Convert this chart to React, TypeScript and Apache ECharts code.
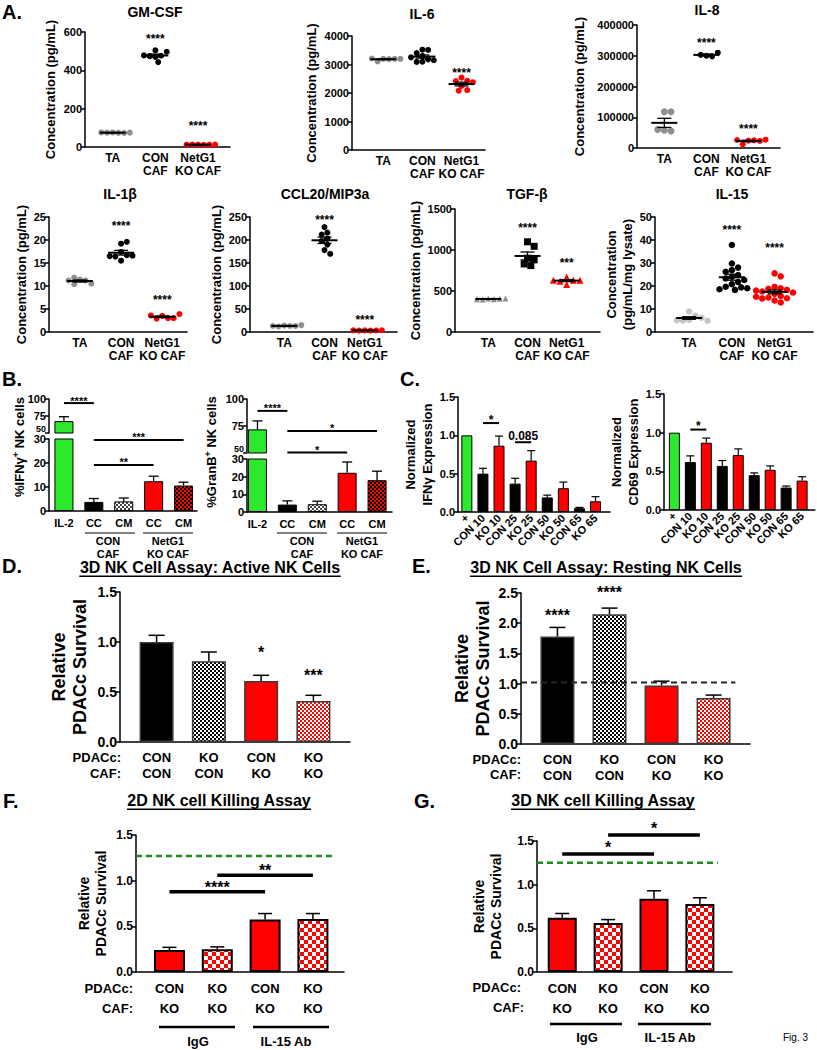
import React, { useEffect, useRef } from 'react';
import * as echarts from 'echarts';

const FONT = '"Liberation Sans", Arial, Helvetica, sans-serif';
const GREEN = '#2ee82e';
const RED = '#ff0000';
const GRAY = '#8e8e8e';

// ---------------- Panel A: dot plots ----------------
const dotCategories = ['TA', 'CON\nCAF', 'NetG1\nKO CAF'];

const gmcsfTA = [76, 74, 75, 73, 76, 75];
const gmcsfCON = [504, 470, 476, 443, 474, 497, 478];
const gmcsfKO = [12, 11, 13, 12, 12, 13];
const gmcsfSig = [[1, 575], [2, 124]];
const gmcsfSigText = ['****', '****'];

const il6TA = [3200, 3190, 3110, 3200, 3210, 3200];
const il6CON = [3520, 3510, 3400, 3300, 3180, 3100, 3090, 3150, 3250];
const il6KO = [2540, 2430, 2420, 2250, 2100, 2080, 2380];
const il6Sig = [[2, 2810]];
const il6SigText = ['****'];

const il8TA = [118000, 118000, 58000, 55000, 60000];
const il8CON = [300000, 298000, 303000, 310000];
const il8KO = [24000, 25000, 12000, 23000, 26000, 27000];
const il8Sig = [[1, 351000], [2, 69000]];
const il8SigText = ['****', '****'];

const il1bTA = [11.4, 11.2, 10.4, 10.5, 11.2, 11.8];
const il1bCON = [19.2, 19.6, 17.4, 16.7, 16.4, 15.5, 16.6, 16.5];
const il1bKO = [3.5, 3.0, 2.9, 3.0, 3.6, 3.9];
const il1bSig = [[1, 23.6], [2, 7.5]];
const il1bSigText = ['****', '****'];

const ccl20TA = [14, 13, 12, 13, 13, 15];
const ccl20CON = [228, 216, 212, 203, 198, 190, 178, 170];
const ccl20KO = [3.5, 3.2, 3.0, 3.4, 3.6, 3.8];
const ccl20Sig = [[1, 250], [2, 33]];
const ccl20SigText = ['****', '****'];

const tgfbTA = [410, 400, 395, 405, 400, 410];
const tgfbCON = [1100, 1045, 900, 880, 830, 810];
const tgfbKO = [670, 630, 620, 580, 630, 630];
const tgfbSig = [[1, 1305], [2, 878]];
const tgfbSigText = ['****', '***'];

const il15TA = [8.9, 7.1, 5.4, 5.0, 6.2, 5.1, 4.9];
const il15CON = [37.8, 29.8, 28.0, 26.9, 26.2, 24.8, 24.0, 23.3, 22.6, 21.8, 20.8, 19.7, 19.4, 18.6, 18.3, 19.0];
const il15KO = [25.5, 24.2, 19.6, 19.0, 18.8, 18.3, 17.6, 17.2, 16.6, 15.7, 15.0, 14.7, 14.6, 15.3, 13.7, 12.8, 18.0];
const il15Sig = [[1, 45.5], [2, 37.8]];
const il15SigText = ['****', '****'];

// ---------------- Panel B ----------------
const bCategories = ['IL-2', 'CC', 'CM', 'CC', 'CM'];
const ifngMean = [67.5, 3.8, 4.0, 12.4, 10.6];
const ifngTop = [74, 5.2, 5.4, 14.5, 12.0];
const ifngSigTop = [[0, 94, 1]];
const ifngSigTopText = ['****'];
const ifngSigBottom = [[1, 29.6, 4], [1, 19.2, 3]];
const ifngSigBottomText = ['***', '**'];

const granbMean = [71.9, 4.2, 4.4, 22.2, 18.0];
const granbTop = [79.7, 6.3, 6.1, 28.3, 23.1];
const granbSigTop = [[0, 89, 1], [1, 70.4, 4], [1, 50.5, 3]];
const granbSigTopText = ['****', '*', '*'];

// ---------------- Panel C ----------------
const cCategories = ['+', 'CON 10', 'KO 10', 'CON 25', 'KO 25', 'CON 50', 'KO 50', 'CON 65', 'KO 65'];
const cIfngMean = [1.0, 0.5, 0.865, 0.37, 0.67, 0.19, 0.31, 0.05, 0.14];
const cIfngTop = [1.0, 0.57, 0.99, 0.44, 0.8, 0.22, 0.39, 0.06, 0.2];
const cIfngSig = [[1, 1.16, 2], [3, 0.91, 4]];
const cIfngSigText = ['*', '0.085'];
const cCd69Mean = [1.0, 0.62, 0.87, 0.57, 0.71, 0.45, 0.52, 0.29, 0.38];
const cCd69Top = [1.0, 0.7, 0.93, 0.64, 0.79, 0.48, 0.57, 0.31, 0.43];
const cCd69Sig = [[1, 1.04, 2]];
const cCd69SigText = ['*'];

// ---------------- Panels D / E ----------------
const deCategories = ['CON\nCON', 'KO\nCON', 'CON\nKO', 'KO\nKO'];
const dMean = [1.0, 0.807, 0.61, 0.41];
const dTop = [1.067, 0.9, 0.667, 0.467];
const dSig = [[2, 0.93, 2], [3, 0.7, 3]];
const dSigText = ['*', '***'];
const eMean = [1.78, 2.15, 0.97, 0.76];
const eTop = [1.93, 2.25, 1.04, 0.81];
const eSig = [[0, 2.18, 0], [1, 2.57, 1]];
const eSigText = ['****', '****'];
const eBaseline = [[-0.7, 1.02, 3.42]];

// ---------------- Panels F / G ----------------
const fgCategories = ['CON\nKO', 'KO\nKO', 'CON\nKO', 'KO\nKO'];
const fMean = [0.24, 0.25, 0.575, 0.58];
const fTop = [0.27, 0.275, 0.64, 0.64];
const fSig = [[0, 0.88, 2], [1, 1.06, 3]];
const fSigText = ['****', '**'];
const fBaseline = [[-0.7, 1.27, 3.42]];
const gMean = [0.62, 0.56, 0.84, 0.78];
const gTop = [0.67, 0.6, 0.93, 0.85];
const gSig = [[0, 1.35, 2], [1, 1.57, 3]];
const gSigText = ['*', '*'];
const gBaseline = [[-0.55, 1.25, 3.39]];

// ---------------- helpers ----------------
type Opt = { grid: any[]; xAxis: any[]; yAxis: any[]; series: any[]; graphic: any[] };

function checker(bg: string, fg: string, cell: number): any {
  const cv = document.createElement('canvas');
  cv.width = cell * 2;
  cv.height = cell * 2;
  const ctx = cv.getContext('2d')!;
  ctx.fillStyle = bg;
  ctx.fillRect(0, 0, cell * 2, cell * 2);
  ctx.fillStyle = fg;
  ctx.fillRect(0, 0, cell, cell);
  ctx.fillRect(cell, cell, cell, cell);
  return { image: cv, repeat: 'repeat', imageWidth: cell * 2, imageHeight: cell * 2 };
}

function txt(x: number, y: number, text: string, size: number, align = 'center', weight = 'bold', extra: any = {}) {
  return {
    type: 'text', x, y, silent: true, z: 10,
    style: {
      text, font: `${weight} ${size}px ${FONT}`, fill: '#000',
      align, textAlign: align, verticalAlign: 'middle', textVerticalAlign: 'middle', ...extra,
    },
  };
}

function hline(x1: number, x2: number, y: number, w: number) {
  return { type: 'line', silent: true, z: 10, shape: { x1, y1: y, x2, y2: y }, style: { stroke: '#000', lineWidth: w } };
}

interface AxCfg {
  left: number; top: number; width: number; height: number;
  xMin: number; xMax: number; cats?: string[];
  yMin: number; yMax: number; yInt: number; yDec?: number; raiseMin?: boolean;
  tickSize: number; xSize?: number; xMargin?: number; xLineHeight?: number; rotate?: number;
  showX?: boolean; name?: string; nameGap?: number; nameSize?: number; nameLineHeight?: number; axisW?: number;
}

function addAxes(o: Opt, c: AxCfg): number {
  const i = o.grid.length;
  o.grid.push({ left: c.left, top: c.top, width: c.width, height: c.height });
  const lw = c.axisW ?? 1.5;
  const cats = c.cats || [];
  o.xAxis.push({
    gridIndex: i, type: 'value', min: c.xMin, max: c.xMax, interval: 0.05, show: c.showX !== false,
    axisLine: { show: true, onZero: false, lineStyle: { color: '#000', width: lw } },
    axisTick: { show: false }, splitLine: { show: false },
    axisLabel: {
      show: true, margin: c.xMargin ?? 4, rotate: c.rotate ?? 0, fontSize: c.xSize ?? 12, fontWeight: 'bold',
      fontFamily: FONT, color: '#000', lineHeight: c.xLineHeight ?? 13,
      formatter: (v: number) => {
        const k = Math.round(v);
        return Math.abs(v - k) < 1e-6 && k >= 0 && k < cats.length ? cats[k] : '';
      },
    },
  });
  o.yAxis.push({
    gridIndex: i, type: 'value', min: c.yMin, max: c.yMax, interval: c.yInt,
    axisLine: { show: true, onZero: false, lineStyle: { color: '#000', width: lw } },
    axisTick: { show: true, length: 4, lineStyle: { color: '#000', width: lw } },
    splitLine: { show: false },
    axisLabel: {
      margin: 3, fontSize: c.tickSize, fontWeight: 'bold', fontFamily: FONT, color: '#000',
      formatter: (v: number) => {
        const s = c.yDec != null ? v.toFixed(c.yDec) : String(v);
        return c.raiseMin && Math.abs(v - c.yMin) < 1e-9 ? `{lo|${s}}` : s;
      },
      rich: { lo: { fontSize: c.tickSize - 2, fontWeight: 'bold', fontFamily: FONT, color: '#000', padding: [0, 0, 9, 0] } },
    },
    name: c.name, nameLocation: 'middle', nameGap: c.nameGap, nameRotate: 90,
    nameTextStyle: { fontSize: c.nameSize ?? 12, fontWeight: 'bold', fontFamily: FONT, color: '#000', lineHeight: c.nameLineHeight ?? 15 },
  });
  return i;
}

function swarm(vals: number[], pxPerY: number, d: number): number[] {
  const placed: { x: number; y: number }[] = [];
  const out: number[] = [];
  const s = d * 0.5;
  vals.forEach((v) => {
    const y = v * pxPerY;
    let chosen = 0;
    for (let k = 0; k < 80; k++) {
      const cand = k === 0 ? 0 : (k % 2 ? 1 : -1) * Math.ceil(k / 2) * s;
      if (placed.every((p) => Math.hypot(p.x - cand, p.y - y) >= d * 0.98)) { chosen = cand; break; }
    }
    placed.push({ x: chosen, y });
    out.push(chosen);
  });
  return out;
}

function meanSem(vals: number[]): [number, number] {
  const n = vals.length;
  const m = vals.reduce((a, b) => a + b, 0) / n;
  const sd = Math.sqrt(vals.reduce((a, b) => a + (b - m) * (b - m), 0) / (n - 1));
  return [m, sd / Math.sqrt(n)];
}

// gap: distance (px) from the bracket line to the visual centre of its label
function addSig(o: Opt, i: number, items: number[][], labels: string[], lw: number, size: number, gap = 6) {
  o.series.push({
    type: 'custom', xAxisIndex: i, yAxisIndex: i, z: 6, silent: true, clip: false,
    data: items, encode: { x: [0, 2], y: 1 },
    renderItem: (p: any, api: any) => {
      const a = api.coord([api.value(0), api.value(1)]);
      const b = api.coord([api.value(2), api.value(1)]);
      const t = labels[p.dataIndex];
      const hasLine = Math.abs(b[0] - a[0]) > 0.5;
      const starOnly = /^\*+$/.test(t);
      const k = starOnly ? 0.225 : 0;
      const ch: any[] = [];
      if (hasLine) ch.push({ type: 'line', shape: { x1: a[0], y1: a[1], x2: b[0], y2: b[1] }, style: { stroke: '#000', lineWidth: lw } });
      const yc = hasLine ? a[1] - gap + k * size : a[1] + k * size;
      ch.push({
        type: 'text', x: (a[0] + b[0]) / 2, y: yc,
        style: {
          text: t, font: `bold ${size}px ${FONT}`, fill: '#000', align: 'center', textAlign: 'center',
          verticalAlign: 'middle', textVerticalAlign: 'middle',
        },
      });
      return { type: 'group', children: ch };
    },
  });
}

function addDashed(o: Opt, i: number, items: number[][], color: string, lw: number) {
  o.series.push({
    type: 'custom', xAxisIndex: i, yAxisIndex: i, z: 5, silent: true, clip: false,
    data: items, encode: { x: [0, 2], y: 1 },
    renderItem: (_p: any, api: any) => {
      const a = api.coord([api.value(0), api.value(1)]);
      const b = api.coord([api.value(2), api.value(1)]);
      return { type: 'line', shape: { x1: a[0], y1: a[1], x2: b[0], y2: b[1] }, style: { stroke: color, lineWidth: lw, lineDash: [6, 4] } };
    },
  });
}

function addBars(o: Opt, i: number, means: number[], tops: number[], fills: any[], bw: number, borderC: string, borderW: number, errW: number, cap: number, clipErr: boolean) {
  o.series.push({
    type: 'bar', xAxisIndex: i, yAxisIndex: i, barWidth: bw, z: 2, silent: true, clip: true,
    data: means.map((v, k) => ({ value: [k, v], itemStyle: { color: fills[k], borderColor: borderC, borderWidth: borderW } })),
  });
  const errs = means.map((v, k) => [k, v, tops[k]]).filter((r) => r[2] > r[1] + 1e-9);
  o.series.push({
    type: 'custom', xAxisIndex: i, yAxisIndex: i, z: 3, silent: true, clip: clipErr,
    data: errs, encode: { x: 0, y: [1, 2] },
    renderItem: (_p: any, api: any) => {
      const a = api.coord([api.value(0), api.value(1)]);
      const b = api.coord([api.value(0), api.value(2)]);
      const st = { stroke: '#000', lineWidth: errW };
      return {
        type: 'group', children: [
          { type: 'line', shape: { x1: a[0], y1: a[1], x2: b[0], y2: b[1] }, style: st },
          { type: 'line', shape: { x1: b[0] - cap, y1: b[1], x2: b[0] + cap, y2: b[1] }, style: st },
        ],
      };
    },
  });
}

interface DotPanel {
  title: string; tx: number; ty: number;
  left: number; top: number; width: number; height: number; xMin: number; xMax: number;
  yMax: number; yInt: number; name: string; nameGap: number;
  groups: number[][]; colors: string[]; symbols: string[]; sizes: number[];
  sig: number[][]; sigText: string[];
}

function addDotPanel(o: Opt, p: DotPanel) {
  const i = addAxes(o, {
    left: p.left, top: p.top, width: p.width, height: p.height, xMin: p.xMin, xMax: p.xMax, cats: dotCategories,
    yMin: 0, yMax: p.yMax, yInt: p.yInt, tickSize: 11, xSize: 12, xMargin: 4, xLineHeight: 13,
    name: p.name, nameGap: p.nameGap, nameSize: 13, nameLineHeight: 16,
  });
  const pxPerX = p.width / (p.xMax - p.xMin);
  const pxPerY = p.height / p.yMax;
  const stats: number[][] = [];
  p.groups.forEach((vals, ci) => {
    const offs = swarm(vals, pxPerY, p.sizes[ci] * 0.95);
    o.series.push({
      type: 'scatter', xAxisIndex: i, yAxisIndex: i, symbol: p.symbols[ci], symbolSize: p.sizes[ci], z: 3, silent: true,
      itemStyle: { color: p.colors[ci], opacity: 1 },
      data: vals.map((v, k) => [ci + offs[k] / pxPerX, v]),
    });
    const [m, se] = meanSem(vals);
    stats.push([ci, m, m - se, m + se]);
  });
  o.series.push({
    type: 'custom', xAxisIndex: i, yAxisIndex: i, z: 4, silent: true,
    data: stats, encode: { x: 0, y: [1, 2, 3] },
    renderItem: (_p: any, api: any) => {
      const x = api.value(0);
      const c = api.coord([x, api.value(1)]);
      const lo = api.coord([x, api.value(2)]);
      const hi = api.coord([x, api.value(3)]);
      const st = { stroke: '#000', lineWidth: 1.3 };
      return {
        type: 'group', children: [
          { type: 'line', shape: { x1: c[0] - 13, y1: c[1], x2: c[0] + 13, y2: c[1] }, style: { stroke: '#000', lineWidth: 2 } },
          { type: 'line', shape: { x1: lo[0], y1: lo[1], x2: hi[0], y2: hi[1] }, style: st },
          { type: 'line', shape: { x1: hi[0] - 7, y1: hi[1], x2: hi[0] + 7, y2: hi[1] }, style: st },
          { type: 'line', shape: { x1: lo[0] - 7, y1: lo[1], x2: lo[0] + 7, y2: lo[1] }, style: st },
        ],
      };
    },
  });
  addSig(o, i, p.sig.map((r) => [r[0], r[1], r[0]]), p.sigText, 0, 12);
  o.graphic.push(txt(p.tx, p.ty, p.title, 14));
}

function titleU(o: Opt, cx: number, cy: number, text: string, size: number) {
  const font = `bold ${size}px ${FONT}`;
  const w = new (echarts.graphic as any).Text({ style: { text, font } }).getBoundingRect().width;
  o.graphic.push(txt(cx, cy, text, size));
  o.graphic.push(hline(cx - w / 2, cx + w / 2, cy + size * 0.58, 1.5));
}

function buildOption(): any {
  const o: Opt = { grid: [], xAxis: [], yAxis: [], series: [], graphic: [] };
  const conc = 'Concentration (pg/mL)';
  const three = (a: string, b: string, c: string) => [a, b, c];

  // ---------- A ----------
  const panels: DotPanel[] = [
    { title: 'GM-CSF', tx: 155, ty: 12, left: 85, top: 32, width: 145, height: 115, xMin: -0.65, xMax: 2.75, yMax: 600, yInt: 200, name: conc, nameGap: 27,
      groups: [gmcsfTA, gmcsfCON, gmcsfKO], colors: three(GRAY, '#000', RED), symbols: three('circle', 'circle', 'circle'), sizes: [6, 6, 6], sig: gmcsfSig, sigText: gmcsfSigText },
    { title: 'IL-6', tx: 422, ty: 14, left: 352, top: 36, width: 133, height: 114, xMin: -0.8, xMax: 2.6, yMax: 4000, yInt: 1000, name: conc, nameGap: 33,
      groups: [il6TA, il6CON, il6KO], colors: three(GRAY, '#000', RED), symbols: three('circle', 'circle', 'circle'), sizes: [6, 6, 6], sig: il6Sig, sigText: il6SigText },
    { title: 'IL-8', tx: 707, ty: 10, left: 637, top: 25, width: 143, height: 123, xMin: -0.65, xMax: 2.75, yMax: 400000, yInt: 100000, name: conc, nameGap: 50,
      groups: [il8TA, il8CON, il8KO], colors: three(GRAY, '#000', RED), symbols: three('circle', 'circle', 'circle'), sizes: [7, 6, 6], sig: il8Sig, sigText: il8SigText },
    { title: 'IL-1β', tx: 120, ty: 194, left: 49, top: 217, width: 138, height: 115, xMin: -0.75, xMax: 2.6, yMax: 25, yInt: 5, name: conc, nameGap: 19,
      groups: [il1bTA, il1bCON, il1bKO], colors: three(GRAY, '#000', RED), symbols: three('circle', 'circle', 'circle'), sizes: [6, 6, 6], sig: il1bSig, sigText: il1bSigText },
    { title: 'CCL20/MIP3a', tx: 325, ty: 194, left: 250, top: 217, width: 147, height: 115, xMin: -0.85, xMax: 2.8, yMax: 250, yInt: 50, name: conc, nameGap: 26,
      groups: [ccl20TA, ccl20CON, ccl20KO], colors: three(GRAY, '#000', RED), symbols: three('circle', 'circle', 'circle'), sizes: [6, 6, 6], sig: ccl20Sig, sigText: ccl20SigText },
    { title: 'TGF-β', tx: 527, ty: 194, left: 455, top: 209, width: 145, height: 123, xMin: -0.85, xMax: 2.85, yMax: 1500, yInt: 500, name: conc, nameGap: 29,
      groups: [tgfbTA, tgfbCON, tgfbKO], colors: three(GRAY, '#000', RED), symbols: three('triangle', 'rect', 'triangle'), sizes: [6, 7, 7], sig: tgfbSig, sigText: tgfbSigText },
    { title: 'IL-15', tx: 732, ty: 194, left: 655, top: 217, width: 158, height: 115, xMin: -0.8, xMax: 2.9, yMax: 50, yInt: 10, name: 'Concentration\n(pg/mL/mg lysate)', nameGap: 16,
      groups: [il15TA, il15CON, il15KO], colors: three('#c4c4c4', '#000', RED), symbols: three('circle', 'circle', 'circle'), sizes: [6.5, 6.5, 6.5], sig: il15Sig, sigText: il15SigText },
  ];
  panels.forEach((p) => addDotPanel(o, p));
  o.graphic.push(txt(2, 12, 'A.', 20, 'left'));

  // ---------- B ----------
  const bFills = [GREEN, '#000', checker('#ffffff', '#444444', 2), RED, checker(RED, '#000000', 2)];
  const bCommon = { tickSize: 11, xSize: 11, xMargin: 5, xLineHeight: 13 };
  const ifTop = addAxes(o, { left: 49, top: 399, width: 148, height: 34, xMin: -0.5, xMax: 4.45, yMin: 50, yMax: 100, yInt: 25, showX: false, raiseMin: true, ...bCommon });
  const ifBot = addAxes(o, { left: 49, top: 439, width: 148, height: 72, xMin: -0.5, xMax: 4.45, cats: bCategories, yMin: 0, yMax: 30, yInt: 10, ...bCommon });
  addBars(o, ifTop, ifngMean, ifngTop, bFills, 19, '#000', 1, 1.3, 5, true);
  addBars(o, ifBot, ifngMean, ifngTop, bFills, 19, '#000', 1, 1.3, 5, true);
  addSig(o, ifTop, ifngSigTop, ifngSigTopText, 2, 11, 4.5);
  addSig(o, ifBot, ifngSigBottom, ifngSigBottomText, 2, 11, 5);

  const gbTop = addAxes(o, { left: 247, top: 399, width: 145, height: 54, xMin: -0.35, xMax: 4.5, yMin: 50, yMax: 100, yInt: 25, showX: false, raiseMin: true, ...bCommon });
  const gbBot = addAxes(o, { left: 247, top: 459, width: 145, height: 53, xMin: -0.35, xMax: 4.5, cats: bCategories, yMin: 0, yMax: 30, yInt: 10, ...bCommon });
  addBars(o, gbTop, granbMean, granbTop, bFills, 19, '#000', 1, 1.3, 5, true);
  addBars(o, gbBot, granbMean, granbTop, bFills, 19, '#000', 1, 1.3, 5, true);
  addSig(o, gbTop, granbSigTop, granbSigTopText, 2, 11, 5);

  const supRich = {
    a: { font: `bold 13px ${FONT}`, fill: '#000' },
    s: { font: `bold 9px ${FONT}`, fill: '#000', padding: [0, 0, 7, 0] },
  };
  o.graphic.push({ type: 'text', x: 19, y: 447, rotation: Math.PI / 2, silent: true, z: 10,
    style: { text: '{a|%IFNγ}{s|+}{a| NK cells}', rich: supRich, align: 'center', textAlign: 'center', verticalAlign: 'middle', textVerticalAlign: 'middle' } });
  o.graphic.push({ type: 'text', x: 211, y: 452, rotation: Math.PI / 2, silent: true, z: 10,
    style: { text: '{a|%GranB}{s|+}{a| NK cells}', rich: supRich, align: 'center', textAlign: 'center', verticalAlign: 'middle', textVerticalAlign: 'middle' } });
  [[85, 135, 108, 'CON', 'CAF'], [143, 193, 168, 'NetG1', 'KO CAF'], [277, 327, 302, 'CON', 'CAF'], [337, 387, 362, 'NetG1', 'KO CAF']].forEach((g: any) => {
    o.graphic.push(hline(g[0], g[1], 533, 1));
    o.graphic.push(txt(g[2], 541, g[3], 11));
    o.graphic.push(txt(g[2], 554, g[4], 11));
  });
  o.graphic.push(txt(2, 379, 'B.', 20, 'left'));

  // ---------- C ----------
  const cFills = [GREEN, '#000', RED, '#000', RED, '#000', RED, '#000', RED];
  const cI = addAxes(o, { left: 458, top: 397, width: 152, height: 115, xMin: -0.55, xMax: 8.9, cats: cCategories, yMin: 0, yMax: 1.5, yInt: 0.5, yDec: 1,
    tickSize: 11, xSize: 11, xMargin: 4, rotate: 45, name: 'Normalized\nIFNγ Expression', nameGap: 18, nameSize: 13, nameLineHeight: 17 });
  addBars(o, cI, cIfngMean, cIfngTop, cFills, 11, '#000', 1, 1.2, 4, false);
  addSig(o, cI, cIfngSig, cIfngSigText, 2, 12, 6);
  const cC = addAxes(o, { left: 664, top: 394, width: 152, height: 116, xMin: -0.65, xMax: 8.8, cats: cCategories, yMin: 0, yMax: 1.5, yInt: 0.5, yDec: 1,
    tickSize: 11, xSize: 11, xMargin: 4, rotate: 45, name: 'Normalized\nCD69 Expression', nameGap: 18, nameSize: 13, nameLineHeight: 17 });
  addBars(o, cC, cCd69Mean, cCd69Top, cFills, 11, '#000', 1, 1.2, 4, false);
  addSig(o, cC, cCd69Sig, cCd69SigText, 2, 12, 6);
  o.graphic.push(txt(400, 379, 'C.', 20, 'left'));

  // ---------- D / E ----------
  const deFills = ['#000', checker('#ffffff', '#000000', 2), RED, checker('#ffffff', RED, 2)];
  const dI = addAxes(o, { left: 120, top: 592, width: 230, height: 150, xMin: -0.7, xMax: 3.7, cats: deCategories, yMin: 0, yMax: 1.5, yInt: 0.5, yDec: 1,
    tickSize: 14, xSize: 13, xMargin: 7, xLineHeight: 16, name: 'Relative\nPDACc Survival', nameGap: 30, nameSize: 18, nameLineHeight: 21 });
  addBars(o, dI, dMean, dTop, deFills, 34, '#3a3a3a', 1.5, 1.5, 8, false);
  addSig(o, dI, dSig, dSigText, 0, 16);
  titleU(o, 210, 567, '3D NK Cell Assay: Active NK Cells', 16);
  o.graphic.push(txt(2, 566, 'D.', 20, 'left'));
  o.graphic.push(txt(121, 757, 'PDACc:', 13, 'right'));
  o.graphic.push(txt(121, 773, 'CAF:', 13, 'right'));

  const eI = addAxes(o, { left: 521, top: 593, width: 229, height: 151, xMin: -0.7, xMax: 3.7, cats: deCategories, yMin: 0, yMax: 2.5, yInt: 0.5, yDec: 1,
    tickSize: 14, xSize: 13, xMargin: 7, xLineHeight: 16, name: 'Relative\nPDACc Survival', nameGap: 28, nameSize: 18, nameLineHeight: 21 });
  addBars(o, eI, eMean, eTop, deFills, 34, '#3a3a3a', 1.5, 1.5, 8, false);
  addDashed(o, eI, eBaseline, '#262626', 2);
  addSig(o, eI, eSig, eSigText, 0, 16);
  titleU(o, 606, 567, '3D NK Cell Assay: Resting NK Cells', 16);
  o.graphic.push(txt(412, 566, 'E.', 20, 'left'));
  o.graphic.push(txt(521, 759, 'PDACc:', 13, 'right'));
  o.graphic.push(txt(521, 774, 'CAF:', 13, 'right'));

  // ---------- F / G ----------
  const fgFills = [RED, checker(RED, '#ffffff', 4), RED, checker(RED, '#ffffff', 4)];
  const fI = addAxes(o, { left: 136, top: 835, width: 208, height: 137, xMin: -0.7, xMax: 3.65, cats: fgCategories, yMin: 0, yMax: 1.5, yInt: 0.5, yDec: 1,
    tickSize: 12, xSize: 13, xMargin: 6, xLineHeight: 20, name: 'Relative\nPDACc Survival', nameGap: 27, nameSize: 14, nameLineHeight: 17 });
  addBars(o, fI, fMean, fTop, fgFills, 31, '#000', 2, 1.5, 7, false);
  addDashed(o, fI, fBaseline, '#1f8a1f', 2.5);
  addSig(o, fI, fSig, fSigText, 3.5, 16, 8);
  titleU(o, 219, 800, '2D NK cell Killing Assay', 16);
  o.graphic.push(txt(3, 801, 'F.', 20, 'left'));
  o.graphic.push(txt(133, 988, 'PDACc:', 13, 'right'));
  o.graphic.push(txt(133, 1008, 'CAF:', 13, 'right'));
  o.graphic.push(hline(159, 235, 1027, 2.5));
  o.graphic.push(hline(253, 329, 1027, 2.5));
  o.graphic.push(txt(198, 1041, 'IgG', 13));
  o.graphic.push(txt(286, 1041, 'IL-15 Ab', 13));

  const gI = addAxes(o, { left: 537, top: 841, width: 195, height: 131, xMin: -0.55, xMax: 3.7, cats: fgCategories, yMin: 0, yMax: 1.5, yInt: 0.5, yDec: 1,
    tickSize: 12, xSize: 13, xMargin: 6, xLineHeight: 20, name: 'Relative\nPDACc Survival', nameGap: 33, nameSize: 14, nameLineHeight: 17 });
  addBars(o, gI, gMean, gTop, fgFills, 29, '#000', 2, 1.5, 7, false);
  addDashed(o, gI, gBaseline, '#1f8a1f', 2.5);
  addSig(o, gI, gSig, gSigText, 3.5, 16, 10);
  titleU(o, 603, 800, '3D NK cell Killing Assay', 16);
  o.graphic.push(txt(414, 801, 'G.', 20, 'left'));
  o.graphic.push(txt(521, 987, 'PDACc:', 13, 'right'));
  o.graphic.push(txt(524, 1007, 'CAF:', 13, 'right'));
  o.graphic.push(hline(550, 622, 1024, 2.5));
  o.graphic.push(hline(638, 711, 1024, 2.5));
  o.graphic.push(txt(587, 1037, 'IgG', 13));
  o.graphic.push(txt(670, 1037, 'IL-15 Ab', 13));

  o.graphic.push(txt(783, 1037, 'Fig. 3', 10, 'left', 'normal'));

  return {
    animation: false,
    backgroundColor: '#ffffff',
    textStyle: { fontFamily: FONT },
    grid: o.grid,
    xAxis: o.xAxis,
    yAxis: o.yAxis,
    series: o.series,
    graphic: o.graphic,
  };
}

export default function App() {
  const ref = useRef<HTMLDivElement>(null);
  useEffect(() => {
    document.body.style.margin = '0';
    const chart = echarts.init(ref.current!, null, { renderer: 'svg' });
    chart.setOption(buildOption());
    return () => chart.dispose();
  }, []);
  return <div ref={ref} style={{ width: 817, height: 1050 }} />;
}
